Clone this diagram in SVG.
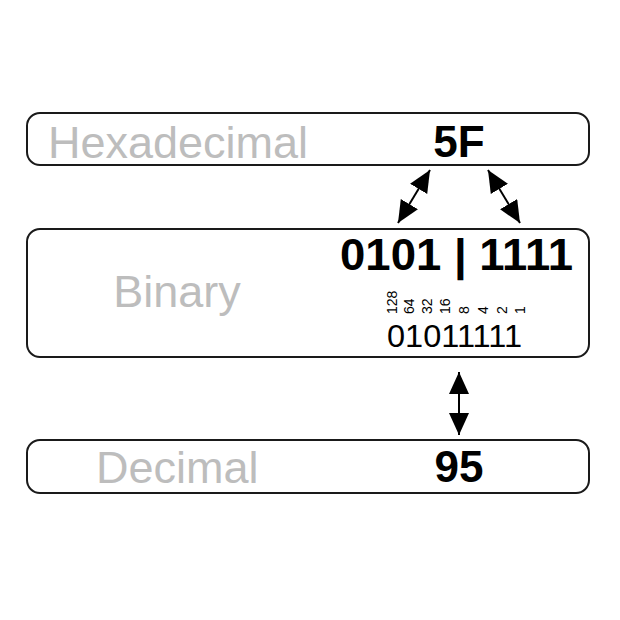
<svg xmlns="http://www.w3.org/2000/svg" width="620" height="620" viewBox="0 0 620 620">
  <style>
    .box { fill: #fff; stroke: #1a1a1a; stroke-width: 2; }
    .lbl { font-family: "Liberation Sans", Arial, sans-serif; font-size: 45px; fill: #bdbdbd; }
    .val { font-family: "Liberation Sans", Arial, sans-serif; font-size: 44px; font-weight: bold; fill: #000; }
    .bits { font-family: "Liberation Sans", Arial, sans-serif; font-size: 32px; fill: #000; }
    .w { font-family: "Liberation Sans", Arial, sans-serif; font-size: 14px; fill: #000; }
    .conn { stroke: #000; stroke-width: 2; fill: none; }
  </style>
  <defs>
    <marker id="ah" markerUnits="userSpaceOnUse" markerWidth="24" markerHeight="22" refX="22" refY="10" orient="auto-start-reverse">
      <path d="M0,0 L22,10 L0,20 z" fill="#000"/>
    </marker>
  </defs>
  <rect width="620" height="620" fill="#fff"/>

  <g id="hex">
    <rect class="box" x="27" y="113" width="562" height="52" rx="13"/>
    <text class="lbl" x="48" y="158">Hexadecimal</text>
    <text class="val" x="459" y="157" text-anchor="middle">5F</text>
  </g>

  <g id="binary">
    <rect class="box" x="27" y="229" width="562" height="128" rx="13"/>
    <text class="lbl" x="177" y="307" text-anchor="middle">Binary</text>
    <text class="val" x="340" y="270" textLength="233" lengthAdjust="spacingAndGlyphs">0101 | 1111</text>
    <text class="w" transform="translate(397,314) rotate(-90)">128</text>
    <text class="w" transform="translate(414,314) rotate(-90)">64</text>
    <text class="w" transform="translate(432,314) rotate(-90)">32</text>
    <text class="w" transform="translate(450,314) rotate(-90)">16</text>
    <text class="w" transform="translate(469,314) rotate(-90)">8</text>
    <text class="w" transform="translate(488,314) rotate(-90)">4</text>
    <text class="w" transform="translate(507,314) rotate(-90)">2</text>
    <text class="w" transform="translate(525,314) rotate(-90)">1</text>
    <text class="bits" x="387" y="347" textLength="135" lengthAdjust="spacingAndGlyphs">01011111</text>
  </g>

  <g id="decimal">
    <rect class="box" x="27" y="440" width="562" height="53" rx="13"/>
    <text class="lbl" x="96" y="483">Decimal</text>
    <text class="val" x="459" y="482" text-anchor="middle">95</text>
  </g>

  <g id="connectors">
    <line class="conn" x1="430" y1="170" x2="398" y2="223" marker-start="url(#ah)" marker-end="url(#ah)"/>
    <line class="conn" x1="488" y1="170" x2="520" y2="223" marker-start="url(#ah)" marker-end="url(#ah)"/>
    <line class="conn" x1="459" y1="372" x2="459" y2="435" marker-start="url(#ah)" marker-end="url(#ah)"/>
  </g>
</svg>
